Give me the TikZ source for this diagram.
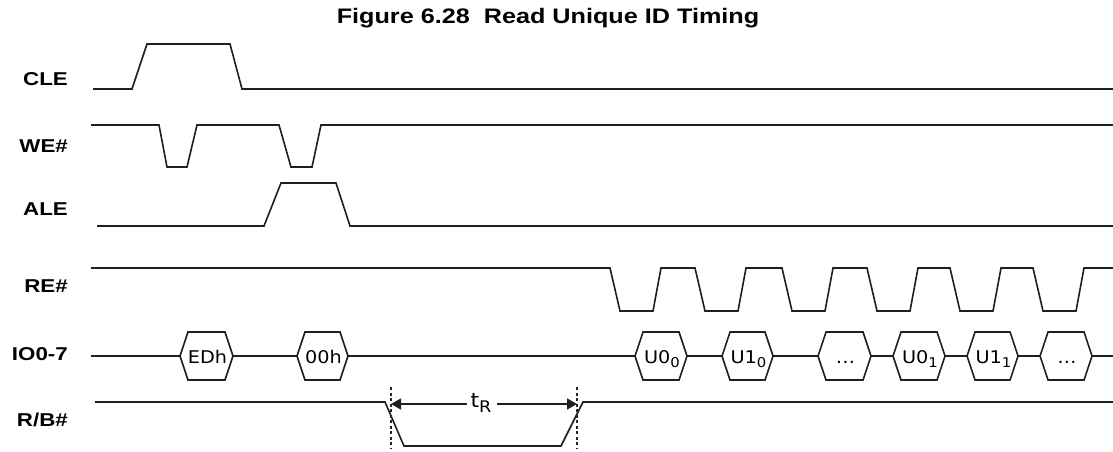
\documentclass[tikz,border=0pt]{standalone}
\usepackage{fontspec}
\setmainfont{Liberation Sans}
\newfontfamily\lblfont[FakeStretch=1.2]{Liberation Sans}
\newfontfamily\hexfont[FakeStretch=1.1]{DejaVu Sans}
\usetikzlibrary{arrows.meta}
\newcommand{\sbs}[1]{\raisebox{-4pt}{\fontsize{13.5}{14}\selectfont #1}}
\begin{document}
\begin{tikzpicture}[x=1pt,y=-1pt,
  sig/.style={line width=1.6pt, black!88, line join=miter},
  lbl/.style={font=\lblfont\bfseries\fontsize{18.6}{20}\selectfont, anchor=base east, inner sep=0pt},
  hextxt/.style={font=\hexfont\fontsize{17.5}{18}\selectfont, inner sep=0pt, anchor=base},
  vdash/.style={line width=1.4pt, black!85, dash pattern=on 3pt off 2.5pt},
  dim/.style={line width=1.4pt, black!88, -{Triangle[length=10pt,width=11pt]}}]
\useasboundingbox (0,0) rectangle (1113,451);
% title
\node[font=\lblfont\bfseries\fontsize{21}{23}\selectfont, inner sep=0pt, anchor=base] (title) at (548,23) {Figure 6.28\ \ Read Unique ID Timing};
% labels
\node[lbl] (lcle) at (68,85.5) {CLE};
\node[lbl] (lwe) at (68,152) {WE\#};
\node[lbl] (lale) at (68,215) {ALE};
\node[lbl] (lre) at (68,292) {RE\#};
\node[lbl] (lio) at (68,360) {IO0-7};
\node[lbl] (lrb) at (68,426) {R/B\#};
% CLE
\draw[sig] (93,89) -- (132,89) -- (147,44) -- (230,44) -- (242,89) -- (1113,89);
% WE#
\draw[sig] (91,125) -- (159,125) -- (167,167) -- (187,167) -- (197,125) -- (279,125) -- (291,167) -- (312,167) -- (321,125) -- (1113,125);
% ALE
\draw[sig] (97,226) -- (264,226) -- (281,183) -- (336,183) -- (350,226) -- (1113,226);
% RE#
\draw[sig] (91,268)
  \foreach \f in {610,695,782,867,950,1033} {
    -- (\f,268) -- ({\f+10},311) -- ({\f+43},311) -- ({\f+51},268)
  } -- (1113,268);
% IO bus
\draw[sig] (91,356) -- (180,356);
\draw[sig] (233,356) -- (297,356);
\draw[sig] (348,356) -- (635,356);
\draw[sig] (687,356) -- (722,356);
\draw[sig] (773,356) -- (818,356);
\draw[sig] (871,356) -- (893,356);
\draw[sig] (945,356) -- (967,356);
\draw[sig] (1018,356) -- (1040,356);
\draw[sig] (1092,356) -- (1113,356);
\foreach \l/\r/\t/\n in {180/233/EDh/ed, 297/348/00h/oo, 635/687/U0\sbs{0}/ua, 722/773/U1\sbs{0}/ub, 818/871/\dots/uc, 893/945/U0\sbs{1}/ud, 967/1018/U1\sbs{1}/ue, 1040/1092/\dots/uf} {
  \draw[sig] (\l,356) -- ({\l+8},332) -- ({\r-8},332) -- (\r,356) -- ({\r-8},380) -- ({\l+8},380) -- cycle;
  \node[hextxt] (\n) at ({(\l+\r)/2+1},363) {\t};
}
% R/B#
\draw[sig] (95,402) -- (385,402) -- (404,446) -- (561,446) -- (583,402) -- (1113,402);
\coordinate (da) at (391,387);
\coordinate (db) at (391,449);
\coordinate (dc) at (577,387);
\coordinate (dd) at (577,449);
\draw[vdash] (da) -- (db);
\draw[vdash] (dc) -- (dd);
\node[hextxt, font=\hexfont\fontsize{20}{21}\selectfont] (tr) at (481,407) {t\raisebox{-5pt}{\fontsize{16}{17}\selectfont R}};
\coordinate (al) at (391,404);
\coordinate (ar) at (577,404);
\draw[dim] (467,404) -- (al);
\draw[dim] (497,404) -- (ar);
\end{tikzpicture}
\end{document}
